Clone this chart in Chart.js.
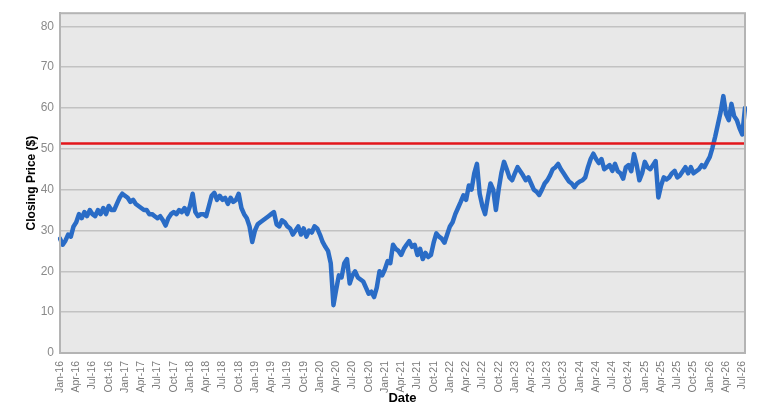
<!DOCTYPE html>
<html>
<head>
<meta charset="utf-8">
<script src="https://cdn.jsdelivr.net/npm/chart.js@4.4.0/dist/chart.umd.min.js"></script>
<style>
  html, body { margin: 0; padding: 0; background: #fff; }
  #wrap { width: 784px; height: 414px; position: relative; }
</style>
</head>
<body>
<div id="wrap"><canvas id="chart"></canvas></div>
<script>
// quarterly tick labels on the date axis
const quarterLabels = [
    'Jan-16', 'Apr-16', 'Jul-16', 'Oct-16', 'Jan-17', 'Apr-17', 'Jul-17', 'Oct-17',
    'Jan-18', 'Apr-18', 'Jul-18', 'Oct-18', 'Jan-19', 'Apr-19', 'Jul-19', 'Oct-19',
    'Jan-20', 'Apr-20', 'Jul-20', 'Oct-20', 'Jan-21', 'Apr-21', 'Jul-21', 'Oct-21',
    'Jan-22', 'Apr-22', 'Jul-22', 'Oct-22', 'Jan-23', 'Apr-23', 'Jul-23', 'Oct-23',
    'Jan-24', 'Apr-24', 'Jul-24', 'Oct-24', 'Jan-25', 'Apr-25', 'Jul-25', 'Oct-25',
    'Jan-26', 'Apr-26', 'Jul-26'
];
const pointsPerQuarter = 6; // two readings per month

// closing price, two readings per month, Jan-16 .. Jul-26
const closingPrice = [
    // 2016
    28, 26.5, 27.5, 29, 28.5, 31, 32, 34, 33, 34.5, 33.5, 35,
    34, 33.5, 35, 34, 35.5, 34, 36, 35, 35, 36.5, 38, 39,
    // 2017
    38.5, 38, 37, 37.5, 36.5, 36, 35.5, 35, 35, 34, 34, 33.5,
    33, 33.5, 32.5, 31.2, 33, 34, 34.5, 34, 35, 34.5, 35.5, 34,
    // 2018
    36, 39, 34.5, 33.5, 34, 34, 33.5, 36, 38.5, 39.2, 37.5, 38.5,
    37.5, 38, 36.5, 38, 37, 37.5, 39, 35.5, 34, 33, 31, 27.2,
    // 2019
    30, 31.5, 32, 32.5, 33, 33.5, 34, 34.5, 31.5, 31, 32.5, 32,
    31, 30.5, 29, 30, 31, 29, 30.5, 28.5, 30, 29.5, 31, 30.5,
    // 2020
    29, 27.2, 26, 25, 22, 11.7, 15.5, 19, 18.5, 22, 23, 17,
    19, 20, 18.5, 18, 17.5, 16, 14.5, 15, 13.7, 16, 20, 19,
    // 2021
    20.5, 22.5, 22, 26.5, 25.5, 25, 24, 25.5, 26.5, 27.4, 26, 26.5,
    24, 25.5, 23, 24.5, 23.5, 24, 27, 29.3, 28.5, 28, 27, 29,
    // 2022
    31, 32, 34, 35.5, 37, 38.6, 37.5, 41, 40, 44, 46.3, 39,
    36, 34, 38, 41.5, 40, 35, 40, 44, 46.8, 45, 43, 42.3,
    // 2023
    44, 45.5, 44.5, 43.5, 42.3, 43, 41.5, 40, 39.5, 38.7, 40, 41.5,
    42.3, 43.5, 45, 45.5, 46.3, 45, 44, 43, 42, 41.5, 40.6, 41.5,
    // 2024
    42, 42.3, 43, 45.5, 47.5, 48.8, 47.5, 46.5, 47.5, 45, 45.5, 46,
    44.6, 46.3, 44.5, 44, 42.7, 45.5, 46, 44.5, 48.7, 46, 42.3, 44,
    // 2025
    46.8, 45.5, 45, 46, 47, 38.1, 41, 43, 42.5, 43, 44, 44.6,
    43, 43.5, 44.5, 45.5, 44, 45.5, 44, 44.5, 45, 46, 45.5, 46.8,
    // 2026
    48, 50.3, 53, 56, 59, 62.9, 58.5, 57, 61, 58, 57, 55,
    53.5, 60
];

const referencePrice = 51.3;
const yTicks = [0, 10, 20, 30, 40, 50, 60, 70, 80];
const yMin = 0;
const yMax = 83.2;

const baseFont = 'Liberation Sans, Arial, sans-serif';

// plot area background, frame and the horizontal reference line
const plotDecor = {
    id: 'plotDecor',
    beforeDraw(chart) {
        const { ctx, chartArea: a } = chart;
        ctx.save();
        ctx.fillStyle = '#e8e8e8';
        ctx.fillRect(a.left, a.top, a.right - a.left, a.bottom - a.top);
        ctx.restore();
    },
    afterDatasetsDraw(chart) {
        const { ctx, chartArea: a, scales } = chart;
        const y = scales.y.getPixelForValue(referencePrice);
        ctx.save();
        ctx.strokeStyle = '#e3161b';
        ctx.lineWidth = 2.5;
        ctx.beginPath(); ctx.moveTo(a.left, y); ctx.lineTo(a.right, y); ctx.stroke();
        ctx.restore();
    },
    afterDraw(chart) {
        const { ctx, chartArea: a } = chart;
        ctx.save();
        ctx.strokeStyle = '#b4b4b4';
        ctx.lineWidth = 2;
        ctx.strokeRect(a.left, a.top, a.right - a.left, a.bottom - a.top);
        ctx.restore();
    }
};

new Chart(document.getElementById('chart'), {
    type: 'line',
    data: {
        labels: closingPrice.map((_, i) => i),
        datasets: [{
            data: closingPrice,
            borderColor: '#2a6cc6',
            borderWidth: 4.5,
            pointRadius: 0,
            tension: 0,
            borderJoinStyle: 'round',
            borderCapStyle: 'round'
        }]
    },
    options: {
        responsive: true,
        maintainAspectRatio: false,
        animation: false,
        layout: { padding: { top: 12, right: 39, left: 0, bottom: 0 } },
        plugins: {
            legend: { display: false },
            tooltip: { enabled: false }
        },
        scales: {
            x: {
                type: 'category',
                offset: false,
                grid: { display: false },
                border: { display: true, color: '#a8a8a8', width: 2 },
                ticks: {
                    autoSkip: false,
                    minRotation: 90,
                    maxRotation: 90,
                    padding: 0,
                    color: '#7a7a7a',
                    font: { family: baseFont, size: 10.5 },
                    callback: (value, index) =>
                        index % pointsPerQuarter === 0 ? quarterLabels[index / pointsPerQuarter] : null
                },
                title: {
                    display: true,
                    text: 'Date',
                    color: '#000',
                    font: { family: baseFont, size: 13, weight: 'bold' },
                    padding: { top: 0, bottom: 8 }
                },
                afterFit: (scale) => { scale.height = 61; }
            },
            y: {
                min: yMin,
                max: yMax,
                grid: { color: '#c2c2c2', lineWidth: 1.5, drawTicks: false },
                border: { display: true, color: '#a8a8a8', width: 2 },
                ticks: {
                    padding: 6,
                    color: '#8a8a8a',
                    font: { family: baseFont, size: 12 }
                },
                afterBuildTicks: (scale) => {
                    scale.ticks = yTicks.map(v => ({ value: v }));
                },
                title: {
                    display: true,
                    text: 'Closing Price ($)',
                    color: '#000',
                    font: { family: baseFont, size: 12, weight: 'bold' },
                    padding: { top: 24, bottom: 0 }
                },
                afterFit: (scale) => { scale.width = 60; }
            }
        }
    },
    plugins: [plotDecor]
});
</script>
</body>
</html>
